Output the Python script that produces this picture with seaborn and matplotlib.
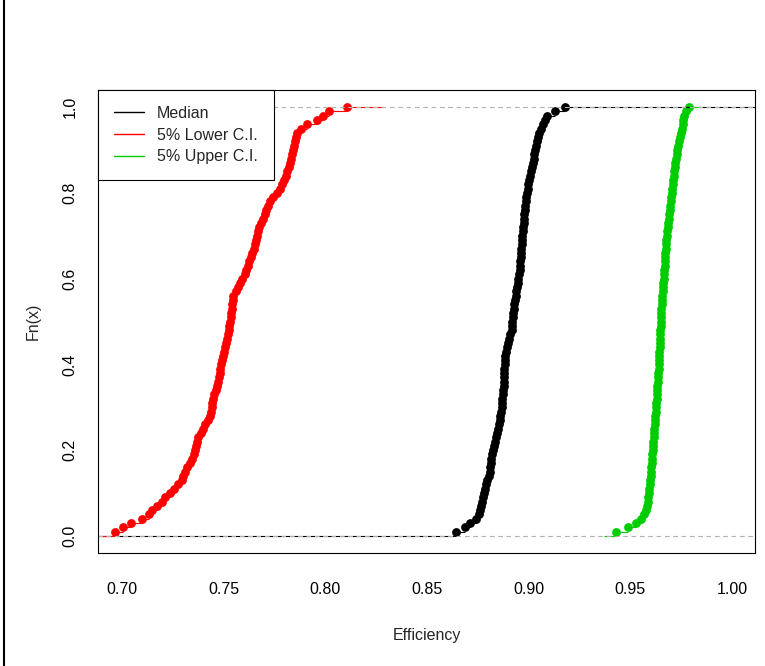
import numpy as np
import pandas as pd
import matplotlib
matplotlib.use('Agg')
import matplotlib.pyplot as plt
import seaborn as sns
from matplotlib.lines import Line2D

# Efficiency samples (sorted)
median_eff = [
    0.8643, 0.8685, 0.8712, 0.8740, 0.8757, 0.8762, 0.8766, 0.8770, 0.8775, 0.8780,
    0.8786, 0.8791, 0.8797, 0.8803, 0.8808, 0.8811, 0.8813, 0.8816, 0.8820, 0.8824,
    0.8828, 0.8833, 0.8838, 0.8843, 0.8849, 0.8855, 0.8858, 0.8861, 0.8864, 0.8867,
    0.8869, 0.8871, 0.8874, 0.8876, 0.8877, 0.8878, 0.8879, 0.8880, 0.8881, 0.8882,
    0.8884, 0.8886, 0.8889, 0.8893, 0.8897, 0.8903, 0.8910, 0.8916, 0.8918, 0.8920,
    0.8922, 0.8924, 0.8926, 0.8929, 0.8933, 0.8936, 0.8940, 0.8943, 0.8946, 0.8949,
    0.8953, 0.8955, 0.8957, 0.8959, 0.8961, 0.8962, 0.8964, 0.8966, 0.8967, 0.8969,
    0.8971, 0.8973, 0.8975, 0.8977, 0.8979, 0.8981, 0.8983, 0.8986, 0.8989, 0.8992,
    0.8995, 0.8998, 0.9003, 0.9007, 0.9012, 0.9016, 0.9020, 0.9024, 0.9028, 0.9032,
    0.9036, 0.9041, 0.9047, 0.9053, 0.9062, 0.9070, 0.9080, 0.9090, 0.9130, 0.9179,
]
lower_eff = [
    0.6966, 0.7007, 0.7045, 0.7100, 0.7135, 0.7150, 0.7172, 0.7195, 0.7210, 0.7235,
    0.7255, 0.7275, 0.7293, 0.7302, 0.7312, 0.7322, 0.7333, 0.7343, 0.7352, 0.7358,
    0.7363, 0.7368, 0.7375, 0.7388, 0.7398, 0.7410, 0.7423, 0.7432, 0.7437, 0.7441,
    0.7445, 0.7449, 0.7454, 0.7460, 0.7465, 0.7470, 0.7475, 0.7480, 0.7484, 0.7488,
    0.7492, 0.7496, 0.7500, 0.7505, 0.7510, 0.7515, 0.7520, 0.7524, 0.7528, 0.7531,
    0.7534, 0.7537, 0.7540, 0.7542, 0.7545, 0.7548, 0.7560, 0.7572, 0.7582, 0.7592,
    0.7603, 0.7612, 0.7620, 0.7627, 0.7633, 0.7640, 0.7647, 0.7652, 0.7657, 0.7663,
    0.7668, 0.7675, 0.7683, 0.7692, 0.7701, 0.7709, 0.7717, 0.7728, 0.7745, 0.7760,
    0.7777, 0.7785, 0.7798, 0.7805, 0.7812, 0.7820, 0.7825, 0.7829, 0.7834, 0.7839,
    0.7844, 0.7850, 0.7855, 0.7860, 0.7880, 0.7910, 0.7960, 0.7990, 0.8020, 0.8108,
]
upper_eff = [
    0.9428, 0.9490, 0.9530, 0.9552, 0.9565, 0.9575, 0.9580, 0.9585, 0.9589, 0.9592,
    0.9594, 0.9596, 0.9598, 0.9600, 0.9602, 0.9604, 0.9605, 0.9607, 0.9608, 0.9610,
    0.9611, 0.9613, 0.9614, 0.9616, 0.9617, 0.9619, 0.9620, 0.9622, 0.9624, 0.9626,
    0.9627, 0.9629, 0.9630, 0.9632, 0.9633, 0.9635, 0.9636, 0.9638, 0.9639, 0.9640,
    0.9641, 0.9642, 0.9643, 0.9644, 0.9645, 0.9646, 0.9647, 0.9648, 0.9649, 0.9650,
    0.9651, 0.9652, 0.9653, 0.9654, 0.9656, 0.9658, 0.9659, 0.9661, 0.9663, 0.9664,
    0.9666, 0.9667, 0.9668, 0.9670, 0.9671, 0.9672, 0.9673, 0.9674, 0.9676, 0.9678,
    0.9680, 0.9683, 0.9685, 0.9688, 0.9690, 0.9693, 0.9696, 0.9698, 0.9701, 0.9703,
    0.9706, 0.9708, 0.9711, 0.9713, 0.9716, 0.9719, 0.9722, 0.9725, 0.9728, 0.9731,
    0.9735, 0.9740, 0.9744, 0.9749, 0.9753, 0.9757, 0.9761, 0.9766, 0.9772, 0.9790,
]

series_labels = ["Median", "5% Lower C.I.", "5% Upper C.I."]
series_colors = ["black", "#FF0000", "#00CD00"]

x_ticks = [0.70, 0.75, 0.80, 0.85, 0.90, 0.95, 1.00]
x_tick_labels = ["0.70", "0.75", "0.80", "0.85", "0.90", "0.95", "1.00"]
y_ticks = [0.0, 0.2, 0.4, 0.6, 0.8, 1.0]
y_tick_labels = ["0.0", "0.2", "0.4", "0.6", "0.8", "1.0"]

sns.set_style("white")
plt.rcParams['font.family'] = ['Liberation Sans', 'DejaVu Sans']

fig = plt.figure(figsize=(7.65, 6.66), dpi=100)
ax = fig.add_axes([98 / 765, 113 / 666, 657 / 765, 463 / 666])
xlim = (0.6882, 1.0113)


def ecdf_frame(vals):
    x = np.sort(np.asarray(vals))
    n = len(x)
    return pd.DataFrame({"x": x, "Fn": np.arange(1, n + 1) / n})


for i, (vals, col) in enumerate(zip([median_eff, lower_eff, upper_eff], series_colors)):
    df = ecdf_frame(vals)
    x = df["x"].to_numpy()
    if i == 0:
        left, right = xlim[0] - 0.05, xlim[1] + 0.05
    else:
        # step extension like R's plot.stepfun(add=TRUE)
        dr = max(0.08 * (x[-1] - x[0]), np.median(np.diff(x)))
        left, right = x[0] - 2 * dr, x[-1] + 2 * dr
    starts = np.concatenate([[left], x])
    ends = np.concatenate([x, [right]])
    levels = np.concatenate([[0.0], df["Fn"].to_numpy()])
    ax.hlines(levels, starts, ends, color=col, lw=0.8)
    sns.scatterplot(data=df, x="x", y="Fn", color=col, s=40, linewidth=0, ax=ax)
    for h in (0, 1):
        ax.axhline(h, color="#B3B3B3", lw=0.75, dashes=(4, 4))

ax.set_xlim(*xlim)
ax.set_ylim(-0.04, 1.04)
ax.set_xticks(x_ticks)
ax.set_xticklabels(x_tick_labels)
ax.set_yticks(y_ticks)
ax.set_yticklabels(y_tick_labels, rotation=90, va="center")
ax.tick_params(axis="both", direction="out", length=8, width=0.8, color="black",
               labelsize=11.5, labelcolor="black")
ax.tick_params(axis="x", pad=13)
ax.tick_params(axis="y", pad=6.5)
for sp in ax.spines.values():
    sp.set_color("black")
    sp.set_linewidth(0.8)

ax.set_xlabel("Efficiency", fontsize=11.5, labelpad=22)
ax.set_ylabel("Fn(x)", fontsize=11.5, labelpad=16)

handles = [Line2D([], [], color=c, lw=1) for c in series_colors]
leg = ax.legend(handles, series_labels, loc="upper left", bbox_to_anchor=(0, 1),
                borderaxespad=0, frameon=True, fancybox=False, edgecolor="black",
                framealpha=1, fontsize=11.5, handlelength=1.9, handletextpad=0.8,
                labelspacing=0.42, borderpad=1.0)
leg.get_frame().set_linewidth(0.8)

# left border line of the original image
fig.add_artist(Line2D([4 / 765, 4 / 765], [0, 1], color="black", lw=1.5))

fig.savefig("out.png", dpi=100)
